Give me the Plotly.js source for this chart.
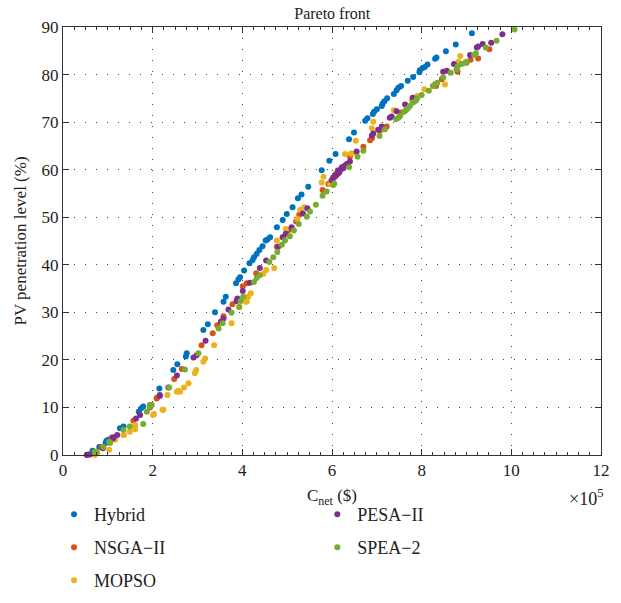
<!DOCTYPE html>
<html>
<head>
<meta charset="utf-8">
<script src="https://cdn.plot.ly/plotly-3.0.1.min.js"></script>
<style>html,body{margin:0;padding:0;background:#fff;}#chart{width:621px;height:603px;}</style>
</head>
<body>
<div id="chart"></div>
<script>
// Cost values in units of 1e5 $, PV penetration in %
const hybridCost = [0.66,0.68,0.81,0.95,0.97,1.01,1.27,1.35,1.69,1.74,1.79,2.15,2.46,2.55,2.74,2.76,3.13,3.23,3.39,3.58,3.63,3.86,3.91,3.95,4.04,4.16,4.23,4.26,4.32,4.38,4.45,4.52,4.56,4.62,4.77,4.90,4.99,5.12,5.24,5.32,5.47,5.77,5.94,6.08,6.38,6.49,6.74,6.79,6.91,6.94,7.00,7.11,7.13,7.17,7.23,7.38,7.44,7.48,7.54,7.69,7.81,7.95,7.96,8.02,8.07,8.13,8.30,8.33,8.54,8.76,9.12];
const hybridPV   = [0.9,0.7,1.7,2.5,3.0,3.2,5.6,6.0,9.1,9.8,10.2,14.0,17.9,19.1,20.7,21.4,26.3,27.5,30.0,32.2,33.3,36.1,36.9,37.4,38.8,40.3,41.0,41.6,42.3,43.1,43.9,45.1,45.3,45.8,47.9,49.4,50.7,52.1,54.0,54.8,56.4,59.9,61.9,63.3,66.4,67.8,70.3,70.8,71.7,72.2,72.7,73.4,73.9,74.4,75.0,75.9,76.7,77.2,77.6,78.7,79.5,80.5,80.9,81.4,81.6,82.1,83.3,83.6,84.9,86.3,88.7];

const nsgaCost = [0.74,0.74,0.86,1.09,1.16,1.57,1.94,1.94,2.09,2.10,2.48,2.65,3.09,3.34,3.44,3.58,3.78,4.01,4.10,4.31,4.77,4.91,5.03,5.20,5.27,5.79,5.92,5.94,6.03,6.07,6.14,6.36,6.40,6.70,6.85,6.89,7.07,7.22,7.55,7.85,8.32,8.45,8.80,9.00,9.09,9.26,9.51];
const nsgaPV   = [0.7,0.5,1.7,3.7,3.8,7.2,10.0,10.5,11.9,12.1,16.0,18.1,23.1,25.6,27.3,29.2,31.7,35.5,36.1,38.2,43.8,45.8,47.3,49.1,50.5,55.7,57.0,57.1,58.2,58.5,59.2,61.3,62.7,64.8,66.2,66.6,68.2,69.1,72.0,74.8,77.6,79.0,80.6,82.5,83.1,83.4,85.3];

const mopsoCost = [0.71,0.77,1.03,1.16,1.35,1.36,1.49,1.61,1.61,2.01,2.03,2.22,2.24,2.33,2.54,2.57,2.61,2.70,2.80,2.94,2.97,3.13,3.17,3.37,3.76,3.93,4.08,4.10,4.13,4.19,4.47,4.53,4.71,4.77,4.97,5.23,5.29,5.38,5.77,5.81,5.96,6.07,6.29,6.42,6.44,6.54,6.53,6.89,6.92,7.38,7.78,7.90,8.06,8.52,8.82,8.86];
const mopsoPV   = [0.0,0.5,1.1,3.2,4.2,4.2,4.9,5.4,6.3,8.4,8.6,9.5,9.5,12.6,13.3,13.5,13.3,14.2,15.1,17.2,17.9,19.6,20.3,23.1,27.7,31.1,32.2,32.2,33.3,34.0,38.1,38.9,39.3,45.1,47.5,49.6,51.5,52.1,57.3,58.5,57.0,59.1,63.3,63.4,63.4,63.6,66.1,68.7,70.1,72.5,74.6,75.5,76.9,77.9,82.7,83.9];

const pesaCost = [0.53,0.56,0.60,0.89,1.11,1.12,1.21,1.63,1.72,2.16,2.16,2.35,2.54,2.91,2.98,3.18,3.52,3.58,3.69,3.87,3.89,4.01,4.17,4.39,4.53,4.80,4.90,4.97,5.10,5.35,5.45,5.99,6.03,6.07,6.10,6.13,6.16,6.19,6.22,6.25,6.28,6.33,6.40,6.55,6.89,6.92,7.03,7.11,7.29,7.33,7.44,7.63,7.80,8.48,8.56,8.72,9.08,9.23,9.26,9.36,9.55,9.80];
const pesaPV   = [0.0,0.1,0.1,1.4,3.7,3.5,4.2,7.7,8.4,12.4,12.6,14.2,16.7,20.5,21.0,24.0,28.0,28.7,30.6,32.4,32.9,34.5,36.2,39.3,40.9,43.8,45.8,46.5,47.9,50.8,51.9,57.8,58.4,58.8,58.9,59.8,59.4,60.0,60.5,60.3,60.8,61.2,61.7,63.8,67.2,67.6,68.4,69.1,70.9,71.2,72.3,73.7,75.1,80.6,80.8,82.2,84.1,85.7,85.9,86.4,86.7,88.5];

const speaCost = [0.71,0.74,0.90,1.03,1.05,1.35,1.49,1.79,1.87,1.94,1.98,2.37,2.72,3.02,3.47,3.56,3.76,3.93,3.96,4.02,4.26,4.32,4.39,4.60,4.69,4.78,4.88,4.95,5.06,5.15,5.26,5.44,5.51,5.64,5.79,5.88,6.03,6.05,6.38,6.57,6.70,7.06,7.18,7.43,7.48,7.52,7.61,7.65,7.69,7.74,7.81,7.87,7.90,8.00,8.16,8.25,8.30,8.35,8.48,8.65,8.78,8.80,8.89,8.97,9.00,9.17,9.21,9.43,9.67,10.07];
const speaPV   = [0.7,0.4,1.7,2.8,2.5,5.3,6.0,6.5,9.1,10.2,10.5,14.2,18.0,21.4,26.6,27.7,29.9,31.1,32.4,33.3,36.4,37.2,37.8,40.6,41.6,42.7,44.2,45.1,46.0,47.2,48.6,50.1,51.2,52.6,54.5,55.4,56.8,57.1,60.5,62.7,64.0,67.1,68.5,70.6,70.9,71.3,72.2,72.5,72.9,73.4,74.1,74.5,75.0,75.7,76.6,77.6,78.0,78.3,79.4,80.4,81.1,81.7,82.2,82.5,82.7,84.1,84.5,85.7,87.1,89.5];

const seriesNames = ['Hybrid','NSGA\u2212II','MOPSO','PESA\u2212II','SPEA\u22122'];
const seriesColors = ['#0072BD','#D95319','#EDB120','#7E2F8E','#77AC30'];
const xTickVals = [0,2,4,6,8,10,12];
const yTickVals = [0,10,20,30,40,50,60,70,80,90];

const FONT = 'Liberation Serif, Times New Roman, serif';
const xs = [hybridCost, nsgaCost, mopsoCost, pesaCost, speaCost];
const ys = [hybridPV, nsgaPV, mopsoPV, pesaPV, speaPV];
const legendIds = ['legend','legend2','legend3','legend4','legend5'];

const traces = seriesNames.map((n, i) => ({
  type: 'scatter', mode: 'markers', name: n,
  x: xs[i], y: ys[i],
  marker: {color: seriesColors[i], size: 6, symbol: 'circle'},
  legend: legendIds[i],
  cliponaxis: false
}));

const axisCommon = {
  showline: true, linecolor: '#333', linewidth: 1, mirror: 'ticks',
  ticks: 'inside', ticklen: 6, tickcolor: '#333',
  showgrid: true, gridcolor: '#444', gridwidth: 1, griddash: '1px,10px',
  zeroline: false,
  tickfont: {family: FONT, size: 17, color: '#222'}
};

function leg(x, y) {
  return {
    orientation: 'h', xref: 'container', yref: 'container',
    xanchor: 'left', yanchor: 'top', x: x, y: y,
    font: {family: FONT, size: 18, color: '#222'},
    bgcolor: 'rgba(0,0,0,0)', borderwidth: 0, itemwidth: 30
  };
}

const layout = {
  width: 621, height: 603,
  margin: {l: 63, r: 20, t: 27, b: 148},
  paper_bgcolor: '#fff', plot_bgcolor: '#fff',
  title: {text: 'Pareto front', font: {family: FONT, size: 16, color: '#222'}, x: 0.535, xanchor: 'center', y: 0.987, yanchor: 'top'},
  xaxis: Object.assign({}, axisCommon, {
    range: [0, 12], tickvals: xTickVals,
    minor: {dtick: 0.25, ticks: 'inside', ticklen: 3, tickcolor: '#333', showgrid: false},
    title: {text: '', font: {family: FONT, size: 17, color: '#222'}}
  }),
  yaxis: Object.assign({}, axisCommon, {
    range: [0, 90], tickvals: yTickVals,
    title: {text: 'PV penetration level (%)', font: {family: FONT, size: 17, color: '#222'}, standoff: 10}
  }),
  legend:  leg(0.087, 0.1774),
  legend2: leg(0.087, 0.1227),
  legend3: leg(0.087, 0.0680),
  legend4: leg(0.511, 0.1774),
  legend5: leg(0.511, 0.1227),
  annotations: [{
    xref: 'paper', yref: 'paper', x: 0.5, y: -0.068, xanchor: 'center', yanchor: 'top',
    text: 'C<sub>net</sub> ($)', showarrow: false, font: {family: FONT, size: 17, color: '#222'}
  }, {
    xref: 'paper', yref: 'paper', x: 0.937, y: -0.068, xanchor: 'left', yanchor: 'top',
    text: '\u00d710<sup>5</sup>', showarrow: false, font: {family: FONT, size: 18, color: '#222'}
  }],
  showlegend: true
};

Plotly.newPlot('chart', traces, layout, {displayModeBar: false, staticPlot: true});
</script>
</body>
</html>
